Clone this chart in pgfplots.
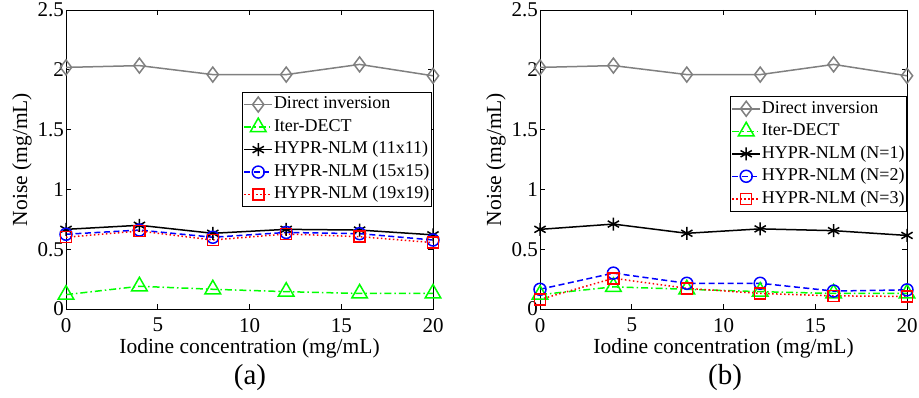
\documentclass[border=0pt]{standalone}
\usepackage{pgfplots}
\pgfplotsset{compat=1.18}
\usepackage{fontspec}
\setmainfont{Liberation Serif}
\definecolor{mgray}{RGB}{128,128,128}
\definecolor{mgreen}{RGB}{0,255,0}
\definecolor{mblue}{RGB}{0,0,255}
\definecolor{mred}{RGB}{255,0,0}
\newcommand{\lblfont}{\fontsize{21.5}{24}\selectfont}
\pgfplotsset{
  mystyle/.style={
    scale only axis, width=367pt, height=299pt,
    xmin=0, xmax=20, ymin=0, ymax=2.5,
    xtick={0,5,10,15,20}, ytick={0,0.5,1,1.5,2,2.5},
    yticklabels={0,0.5,1,1.5,2,2.5},
    tick align=inside, major tick length=5pt,
    tick style={black, line width=0.6pt},
    axis line style={line width=0.9pt},
    /pgf/number format/assume math mode=true,
    tick label style={font=\fontsize{21}{21}\selectfont},
    xticklabel style={anchor=north, inner sep=0pt, yshift=-9pt},
    yticklabel style={anchor=east, inner sep=0pt, xshift=-2pt},
    xlabel={\lblfont Iodine concentration (mg/mL)},
    ylabel={\lblfont Noise (mg/mL)},
    xlabel style={at={(axis description cs:0.5,-0.131)}, anchor=center, inner sep=0pt},
    ylabel style={at={(axis description cs:-0.12,0.5)}, anchor=center, inner sep=0pt},
    legend style={font=\fontsize{18}{21.5}\selectfont, draw=black, line width=0.8pt,
      inner sep=1pt, row sep=0pt, cells={anchor=west},
      nodes={inner sep=1pt, text height=14.5pt, text depth=6pt}},
    legend image code/.code={\draw[mark repeat=2,mark phase=2] plot coordinates {(0pt,0pt) (14pt,0pt) (28pt,0pt)};},
    every axis plot/.append style={line width=1.5pt},
    every mark/.append style={line width=1.3pt},
  },
  sDI/.style={color=mgray, solid, mark=diamond, mark size=7.5pt, mark options={solid}},
  sIT/.style={color=mgreen, dash pattern=on 7pt off 3pt on 1.5pt off 3pt, mark=triangle, mark size=9pt, mark options={solid}},
  sH1/.style={color=black, solid, mark=asterisk, mark size=6.5pt, mark options={solid}},
  sH2/.style={color=mblue, dash pattern=on 6pt off 3.5pt, mark=o, mark size=6pt, mark options={solid}},
  sH3/.style={color=mred, dash pattern=on 1.5pt off 2.5pt, mark=square, mark size=5.5pt, mark options={solid}},
}
\begin{document}
\begin{tikzpicture}
\useasboundingbox (0,0) rectangle (919pt,397pt);
% ---------- (a)
\begin{axis}[mystyle, at={(66pt,88pt)}, anchor=south west,
  legend style={at={(0.997,0.726)}, anchor=north east}]
\addplot[sDI] coordinates {(0,2.02) (4,2.035) (8,1.96) (12,1.96) (16,2.045) (20,1.95)};
\addlegendentry{Direct inversion}
\addplot[sIT] coordinates {(0,0.12) (4,0.19) (8,0.165) (12,0.145) (16,0.13) (20,0.13)};
\addlegendentry{Iter-DECT}
\addplot[sH1] coordinates {(0,0.666) (4,0.70) (8,0.633) (12,0.666) (16,0.66) (20,0.62)};
\addlegendentry{HYPR-NLM (11x11)}
\addplot[sH2] coordinates {(0,0.625) (4,0.66) (8,0.60) (12,0.64) (16,0.63) (20,0.577)};
\addlegendentry{HYPR-NLM (15x15)}
\addplot[sH3] coordinates {(0,0.60) (4,0.652) (8,0.577) (12,0.627) (16,0.605) (20,0.555)};
\addlegendentry{HYPR-NLM (19x19)}
\end{axis}
% ---------- (b)
\begin{axis}[mystyle, at={(540pt,88pt)}, anchor=south west,
  legend style={at={(1.0,0.712)}, anchor=north east}]
\addplot[sDI] coordinates {(0,2.02) (4,2.035) (8,1.96) (12,1.96) (16,2.045) (20,1.95)};
\addlegendentry{Direct inversion}
\addplot[sIT] coordinates {(0,0.12) (4,0.185) (8,0.165) (12,0.145) (16,0.13) (20,0.13)};
\addlegendentry{Iter-DECT}
\addplot[sH1] coordinates {(0,0.666) (4,0.71) (8,0.633) (12,0.67) (16,0.655) (20,0.615)};
\addlegendentry{HYPR-NLM (N=1)}
\addplot[sH2] coordinates {(0,0.165) (4,0.30) (8,0.215) (12,0.215) (16,0.15) (20,0.16)};
\addlegendentry{HYPR-NLM (N=2)}
\addplot[sH3] coordinates {(0,0.08) (4,0.257) (8,0.173) (12,0.13) (16,0.11) (20,0.105)};
\addlegendentry{HYPR-NLM (N=3)}
\end{axis}
\node[font=\fontsize{29}{29}\selectfont] at (250pt,19pt) {(a)};
\node[font=\fontsize{29}{29}\selectfont] at (725pt,19pt) {(b)};
\end{tikzpicture}
\end{document}
